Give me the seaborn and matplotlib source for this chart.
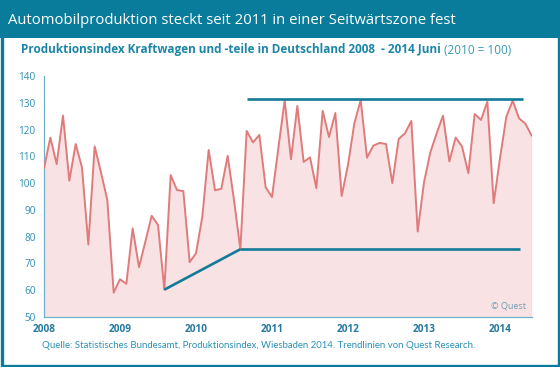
import numpy as np
import pandas as pd
import matplotlib
matplotlib.use("Agg")
import matplotlib.pyplot as plt
from matplotlib.patches import Rectangle
import seaborn as sns

# Produktionsindex Kraftwagen und -teile, Jan 2008 - Jun 2014 (2010 = 100)
werte_2008 = [105.5, 117.0, 107.1, 125.2, 100.9, 114.6, 105.8, 77.1, 113.7, 104.0, 93.7, 59.1]
werte_2009 = [64.1, 62.4, 83.1, 68.6, 78.1, 87.8, 84.4, 60.2, 103.0, 97.4, 97.0, 70.5]
werte_2010 = [73.8, 87.5, 112.4, 97.3, 97.9, 110.2, 93.7, 75.3, 119.5, 115.2, 118.0, 98.4]
werte_2011 = [94.8, 113.0, 130.9, 108.9, 128.8, 107.9, 109.6, 98.1, 127.0, 117.2, 126.2, 95.2]
werte_2012 = [106.8, 122.3, 131.0, 109.5, 114.0, 115.0, 114.6, 100.0, 116.5, 118.6, 123.2, 81.9]
werte_2013 = [100.3, 111.5, 118.6, 125.2, 108.1, 117.0, 113.7, 103.7, 125.8, 123.6, 130.4, 92.5]
werte_2014 = [109.3, 124.8, 130.8, 124.2, 122.2, 117.7]

jahre = [2008, 2009, 2010, 2011, 2012, 2013, 2014]
y_ticks = [50, 60, 70, 80, 90, 100, 110, 120, 130, 140]

# Trendlinien (Monatsindex ab Jan 2008, Wert)
trend_auf_m = [19, 31]
trend_auf_y = [60.2, 75.3]
unten_m = [31, 75.2]
unten_y = [75.3, 75.3]
oben_m = [32, 75.7]
oben_y = [131.4, 131.4]

werte = werte_2008 + werte_2009 + werte_2010 + werte_2011 + werte_2012 + werte_2013 + werte_2014
df = pd.DataFrame({"zeit": 2008 + np.arange(len(werte)) / 12, "index": werte})

teal = "#0a7c9b"
rot = "#e07b7b"
rosa = "#f9e2e4"
spine = "#6fb3cb"

sns.set_style("white")
plt.rcParams["font.family"] = ["Open Sans", "DejaVu Sans"]

fig = plt.figure(figsize=(5.6, 3.67), dpi=100)
fig.patch.set_facecolor("white")

# Rahmen und Titelleiste
fig.add_artist(Rectangle((0, 1 - 38 / 367), 1, 38 / 367, transform=fig.transFigure,
                         facecolor=teal, edgecolor="none", zorder=0))
fig.add_artist(Rectangle((1.5 / 560, 1.5 / 367), 557 / 560, 364 / 367, transform=fig.transFigure,
                         facecolor="none", edgecolor=teal, linewidth=2.4, zorder=0))

fig.text(8 / 560, 1 - 20 / 367, "Automobilproduktion steckt seit 2011 in einer Seitwärtszone fest",
         color="white", fontsize=10.7, va="center", ha="left", family=["Open Sans", "DejaVu Sans"])

t1 = fig.text(21 / 560, 1 - 50 / 367, "Produktionsindex Kraftwagen und -teile in Deutschland 2008  - 2014 Juni ",
              color="#1d86a8", fontsize=8.5, fontweight="bold", va="center", ha="left")
ax = fig.add_axes([44 / 560, 1 - 317 / 367, 488 / 560, 241 / 367])
ax.annotate("(2010 = 100)", xy=(1, 0.5), xycoords=t1, va="center", ha="left",
            color="#3a97b8", fontsize=8.5, annotation_clip=False)

ax.fill_between(df["zeit"], 50, df["index"], color=rosa, linewidth=0, zorder=1)
sns.lineplot(data=df, x="zeit", y="index", ax=ax, color=rot, linewidth=1.4, zorder=3)
ax.plot([df["zeit"].iloc[-1]] * 2, [50, df["index"].iloc[-1]], color=rot, linewidth=0.8, zorder=3)

for mm, yy in [(trend_auf_m, trend_auf_y), (unten_m, unten_y), (oben_m, oben_y)]:
    ax.plot([2008 + m / 12 for m in mm], yy, color="#137b99", linewidth=1.9,
            solid_capstyle="butt", zorder=4)

ax.set_xlim(2008, 2008 + 77.05 / 12)
ax.set_ylim(50, 140)
ax.set_xticks(jahre)
ax.set_xticklabels([str(j) for j in jahre])
ax.set_yticks(y_ticks)
ax.set_xlabel("")
ax.set_ylabel("")
ax.set_facecolor("none")

for s in ["top", "right"]:
    ax.spines[s].set_visible(False)
for s in ["left", "bottom"]:
    ax.spines[s].set_color(spine)
    ax.spines[s].set_linewidth(0.9)

ax.tick_params(axis="both", direction="out", length=3, width=0.8, color=spine)
ax.tick_params(axis="y", labelsize=7.2, labelcolor="#2e8fb3", pad=3)
ax.tick_params(axis="x", labelsize=7.2, labelcolor="#2478a0", pad=2)
for lab in ax.get_xticklabels():
    lab.set_fontweight("bold")

ax.text(0.988, 0.025, "© Quest", transform=ax.transAxes, ha="right", va="bottom",
        fontsize=6.5, color="#6f9eb0")

fig.text(42 / 560, 1 - 345 / 367,
         "Quelle: Statistisches Bundesamt, Produktionsindex, Wiesbaden 2014. Trendlinien von Quest Research.",
         color="#2a90b5", fontsize=6.9, va="center", ha="left", family=["Lato", "DejaVu Sans"])

fig.savefig("out.png", dpi=100)
